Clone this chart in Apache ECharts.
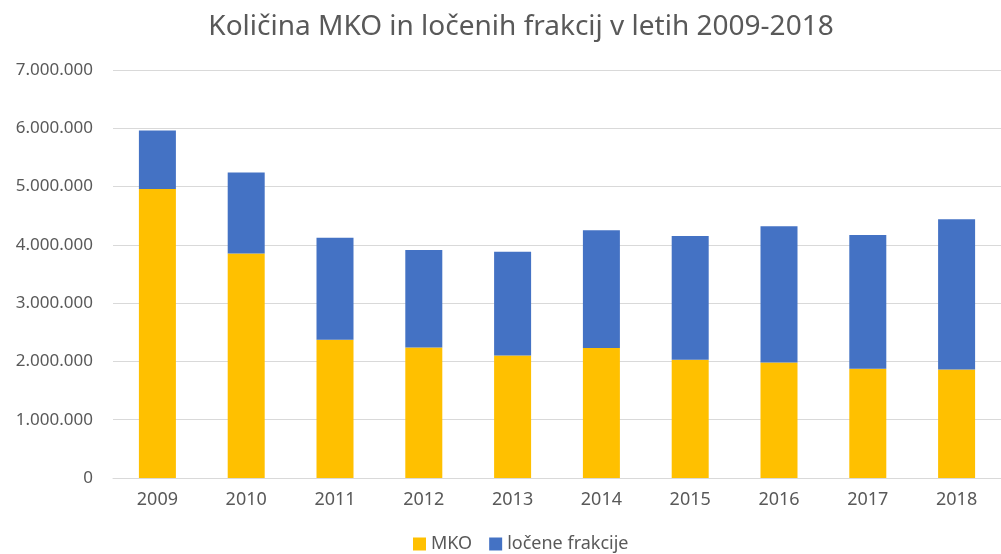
<!DOCTYPE html>
<html>
<head>
<meta charset="utf-8">
<script src="https://cdn.jsdelivr.net/npm/echarts@6/dist/echarts.min.js"></script>
<style>
  html, body { margin: 0; padding: 0; background: #fff; }
  #chart { width: 1001px; height: 554px; }
</style>
</head>
<body>
<div id="chart"></div>
<script>
// leta
var years = ["2009", "2010", "2011", "2012", "2013", "2014", "2015", "2016", "2017", "2018"];
// MKO (spodnji del stolpca)
var mko = [4960000, 3850000, 2370000, 2240000, 2100000, 2230000, 2030000, 1980000, 1875000, 1860000];
// ločene frakcije (zgornji del)
var locene = [1000000, 1390000, 1750000, 1670000, 1780000, 2020000, 2120000, 2340000, 2295000, 2580000];

var font = "'Noto Sans', 'Open Sans', sans-serif";
var textColor = "#595959";

function fmt(v) {
  return String(v).replace(/\B(?=(\d{3})+(?!\d))/g, ".");
}

var myChart = echarts.init(document.getElementById("chart"));

var option = {
  backgroundColor: "#fff",
  animation: false,
  title: {
    text: "Količina MKO in ločenih frakcij v letih 2009-2018",
    left: 516,
    textAlign: "center",
    top: 8,
    textStyle: {
      color: textColor,
      fontSize: 28,
      fontWeight: "normal",
      fontFamily: font,
    },
  },
  legend: {
    data: ["MKO", "ločene frakcije"],
    top: 530,
    left: 408,
    icon: "rect",
    itemWidth: 13,
    itemHeight: 13,
    itemGap: 17,
    textStyle: {
      color: textColor,
      fontSize: 18,
      fontFamily: font,
    },
  },
  grid: {
    left: 113,
    top: 70,
    width: 901,
    height: 408,
  },
  xAxis: {
    type: "category",
    data: years,
    axisLine: { show: true, lineStyle: { color: "#d9d9d9", width: 1 } },
    axisTick: { show: false },
    axisLabel: {
      color: textColor,
      fontSize: 18,
      fontFamily: font,
      margin: 13,
    },
  },
  yAxis: {
    type: "value",
    min: 0,
    max: 7000000,
    interval: 1000000,
    axisLine: { show: false },
    axisTick: { show: false },
    splitLine: { lineStyle: { color: "#d9d9d9", width: 1 } },
    axisLabel: {
      color: textColor,
      fontSize: 17,
      fontFamily: font,
      margin: 20,
      formatter: fmt,
    },
  },
  series: [
    {
      name: "MKO",
      type: "bar",
      stack: "skupaj",
      barWidth: 37,
      itemStyle: { color: "#FFC000" },
      data: mko,
    },
    {
      name: "ločene frakcije",
      type: "bar",
      stack: "skupaj",
      barWidth: 37,
      itemStyle: { color: "#4472C4" },
      data: locene,
    },
  ],
};

myChart.setOption(option);
</script>
</body>
</html>
